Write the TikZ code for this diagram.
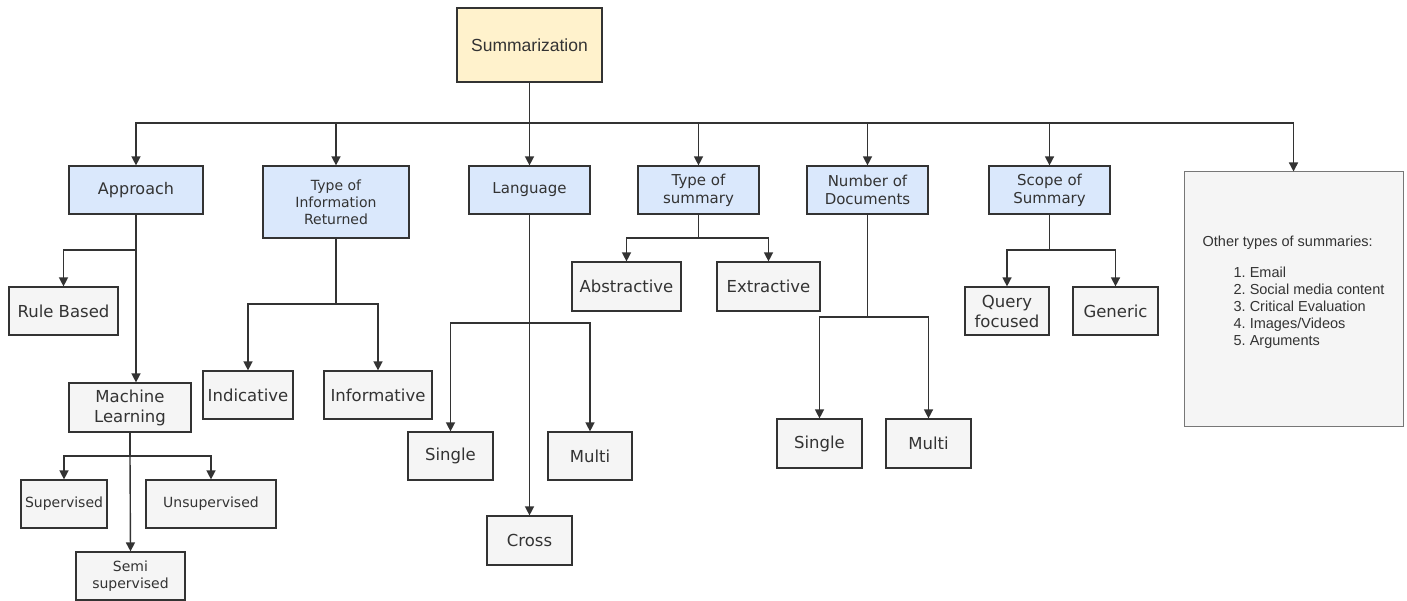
\documentclass[tikz,border=0pt]{standalone}
\usepackage{fontspec}
\setmainfont{DejaVu Sans}
\newfontfamily\helvfont{Liberation Sans}
\usepackage{tikz}
\usetikzlibrary{arrows.meta}
\definecolor{boxtext}{HTML}{333333}
\definecolor{boxline}{HTML}{333333}
\definecolor{otherline}{HTML}{777777}
\definecolor{topfill}{HTML}{FFF2CC}
\definecolor{catfill}{HTML}{DAE8FC}
\definecolor{leaffill}{HTML}{F5F5F5}

\begin{document}
\begin{tikzpicture}[x=1pt,y=-1pt]
  \tikzset{every node/.style={text=boxtext,inner sep=0pt,align=center}}
  \tikzset{topbox/.style={draw=boxline,fill=topfill,line width=1.2pt}}
  \tikzset{catbox/.style={draw=boxline,fill=catfill,line width=1.2pt,minimum height=48pt,font=\fontsize{15}{18}\selectfont}}
  \tikzset{leafbox/.style={draw=boxline,fill=leaffill,line width=1.2pt,minimum height=48pt,font=\fontsize{16.5}{20}\selectfont}}
  \tikzset{smallleaf/.style={leafbox,font=\fontsize{14}{17}\selectfont}}
  \tikzset{link/.style={draw=boxline,line width=1.4pt,-{Triangle[width=9pt,length=9pt]}}}
  \useasboundingbox (0,0) rectangle (1407,601);

  \node[topbox,minimum width=145pt,minimum height=74pt,font=\helvfont\fontsize{17.5}{21}\selectfont] (summ) at (529.5,45) {Summarization};

  \node[catbox,minimum width=134pt,font=\fontsize{16}{19}\selectfont] (appr) at (136,190) {Approach};
  \node[catbox,minimum width=146pt,minimum height=72pt,font=\fontsize{14}{17}\selectfont] (info) at (336,202) {Type of\\Information\\Returned};
  \node[catbox,minimum width=121pt] (lang) at (529.5,190) {Language};
  \node[catbox,minimum width=121pt] (tsum) at (698.5,190) {Type of\\summary};
  \node[catbox,minimum width=121pt] (ndoc) at (867.5,190) {Number of\\Documents};
  \node[catbox,minimum width=121pt] (scope) at (1049.5,190) {Scope of\\Summary};
  \node[draw=otherline,fill=leaffill,line width=1pt,minimum width=219pt,minimum height=254pt,align=left,font=\helvfont\fontsize{14.5}{17}\selectfont] (other) at (1293.5,299)
    {Other types of summaries:\\[14pt]
     \hspace*{31pt}1.\ Email\\
     \hspace*{31pt}2.\ Social media content\\
     \hspace*{31pt}3.\ Critical Evaluation\\
     \hspace*{31pt}4.\ Images/Videos\\
     \hspace*{31pt}5.\ Arguments\\ \mbox{}};

  \node[leafbox,minimum width=109pt] (rule) at (63.5,311) {Rule Based};
  \node[leafbox,minimum width=122pt,minimum height=49pt] (ml) at (130,407.5) {Machine\\Learning};
  \node[smallleaf,minimum width=86pt] (sup) at (64,504) {Supervised};
  \node[smallleaf,minimum width=130pt] (unsup) at (211,504) {Unsupervised};
  \node[smallleaf,minimum width=109pt] (semi) at (130.5,576) {Semi\\supervised};

  \node[leafbox,minimum width=90pt] (ind) at (248,395) {Indicative};
  \node[leafbox,minimum width=108pt] (infm) at (378,395) {Informative};

  \node[leafbox,minimum width=85pt] (lsing) at (450.5,456) {Single};
  \node[leafbox,minimum width=84pt] (lmulti) at (590,456) {Multi};
  \node[leafbox,minimum width=85pt,minimum height=49pt] (cross) at (529.5,540.5) {Cross};

  \node[leafbox,minimum width=109pt,minimum height=49pt] (abs) at (626.5,286.5) {Abstractive};
  \node[leafbox,minimum width=103pt,minimum height=49pt] (ext) at (768.5,286.5) {Extractive};

  \node[leafbox,minimum width=85pt,minimum height=49pt] (dsing) at (819.5,443.5) {Single};
  \node[leafbox,minimum width=85pt,minimum height=49pt] (dmulti) at (928.5,443.5) {Multi};

  \node[leafbox,minimum width=84pt] (query) at (1007,311) {Query\\focused};
  \node[leafbox,minimum width=85pt] (gen) at (1115.5,311) {Generic};

  \coordinate (bus) at (529.5,123);
  \foreach \cat in {appr,info,lang,tsum,ndoc,scope,other}
    \draw[link] (summ.south) -- (bus) -| (\cat.north);

  \coordinate (apprfork) at (136,250);
  \draw[link] (appr.south) -- (apprfork) -| (rule.north);
  \draw[link] (apprfork) -- (apprfork |- ml.north);

  \coordinate (mlfork) at (130,456);
  \draw[link] (ml.south) -- (mlfork) -| (sup.north);
  \draw[link] (mlfork) -| (unsup.north);
  \draw[link] (mlfork) -- (semi.north);

  \coordinate (infofork) at (336,304);
  \draw[link] (info.south) -- (infofork) -| (ind.north);
  \draw[link] (infofork) -| (infm.north);

  \coordinate (langfork) at (529.5,323);
  \draw[link] (lang.south) -- (langfork) -| (lsing.north);
  \draw[link] (langfork) -| (lmulti.north);
  \draw[link] (langfork) -- (cross.north);

  \coordinate (tsumfork) at (698.5,238);
  \draw[link] (tsum.south) -- (tsumfork) -| (abs.north);
  \draw[link] (tsumfork) -| (ext.north);

  \coordinate (ndocfork) at (867.5,317);
  \draw[link] (ndoc.south) -- (ndocfork) -| (dsing.north);
  \draw[link] (ndocfork) -| (dmulti.north);

  \coordinate (scopefork) at (1049.5,250);
  \draw[link] (scope.south) -- (scopefork) -| (query.north);
  \draw[link] (scopefork) -| (gen.north);
\end{tikzpicture}
\end{document}
